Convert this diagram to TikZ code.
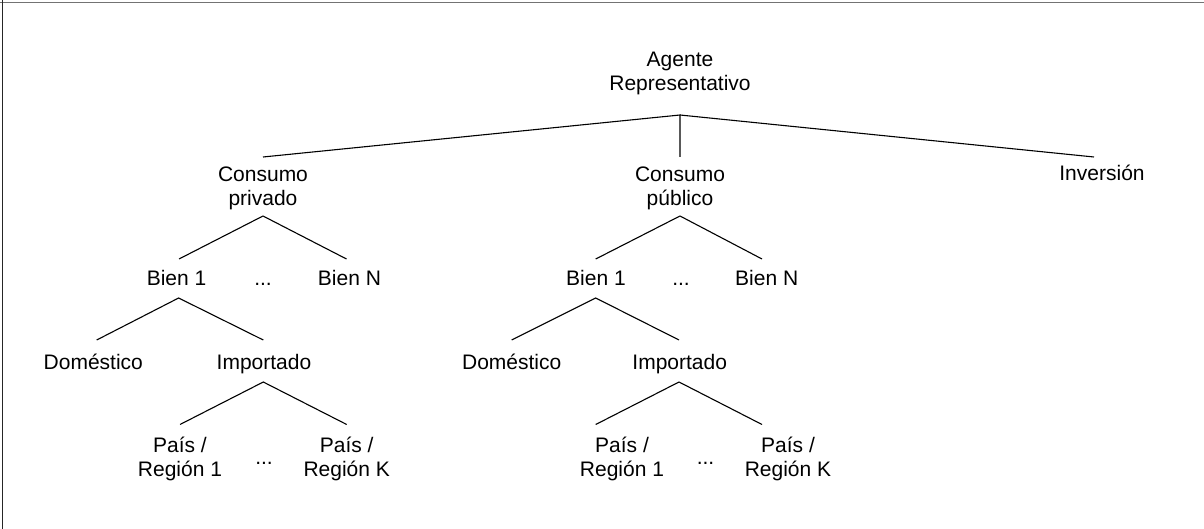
\documentclass[tikz,border=0pt]{standalone}
\usepackage{fontspec}
\setmainfont{Liberation Sans}
\begin{document}
\begin{tikzpicture}[x=1pt,y=-1pt,
  lbl/.style={inner sep=0pt,outer sep=0pt,align=center,
    font=\fontsize{21}{24}\selectfont},
  branch/.style={line width=1.1pt,black}]
\useasboundingbox (0,0) rectangle (1204,529);
% frame lines along the top and left edges
\draw[line width=1.3pt,black!55] (0,2.2) -- (1204,2.2);
\draw[line width=1.3pt,black!85] (2.2,0) -- (2.2,529);

% root and first level
\node[lbl] (agent) at (680,74.2) {\strut Agente\\\strut Representativo};
\node[lbl] (cpriv) at (263,189.2) {\strut Consumo\\\strut privado};
\node[lbl] (cpub)  at (680,189.2) {\strut Consumo\\\strut público};
\node[lbl] (inv)   at (1102,176.2) {\strut Inversión};

% goods
\node[lbl] (lb1)   at (176.6,281.2) {\strut Bien 1};
\node[lbl] (ldots) at (263,281.2)   {\strut ...};
\node[lbl] (lbN)   at (349.5,281.2) {\strut Bien N};
\node[lbl] (pb1)   at (596,281.2)   {\strut Bien 1};
\node[lbl] (pdots) at (681,281.2)   {\strut ...};
\node[lbl] (pbN)   at (766.7,281.2) {\strut Bien N};

% origin of the good
\node[lbl] (ldom) at (93.3,364.2)  {\strut Doméstico};
\node[lbl] (limp) at (264,364.2)   {\strut Importado};
\node[lbl] (pdom) at (511.7,364.2) {\strut Doméstico};
\node[lbl] (pimp) at (679.7,364.2) {\strut Importado};

% source regions
\node[lbl] (lr1)    at (180,459.2)   {\strut País /\\\strut Región 1};
\node[lbl] (ldots2) at (264,459.2)   {\strut ...};
\node[lbl] (lrK)    at (346.7,459.2) {\strut País /\\\strut Región K};
\node[lbl] (pr1)    at (622,459.2)   {\strut País /\\\strut Región 1};
\node[lbl] (pdots2) at (705.5,459.2) {\strut ...};
\node[lbl] (prK)    at (788,459.2)   {\strut País /\\\strut Región K};

% branches
\draw[branch] ([yshift=8.2pt]cpriv.north) -- ([yshift=-16.8pt]agent.south)
  -- ([yshift=8.2pt]cpub.north);
\draw[branch] ([yshift=-16.8pt]agent.south) -- ([xshift=-8pt,yshift=7.2pt]inv.north);

\draw[branch] ([xshift=2.4pt,yshift=10.2pt]lb1.north) -- ([yshift=-2.8pt]cpriv.south)
  -- ([xshift=-3pt,yshift=10.2pt]lbN.north);
\draw[branch] ([xshift=-0.3pt,yshift=10.2pt]pb1.north) -- ([yshift=-2.8pt]cpub.south)
  -- ([xshift=-4.7pt,yshift=10.2pt]pbN.north);

\draw[branch] ([xshift=3.4pt,yshift=12.2pt]ldom.north) -- ([xshift=2pt,yshift=-4.8pt]lb1.south)
  -- ([xshift=-0.7pt,yshift=12.2pt]limp.north);
\draw[branch] ([yshift=12.2pt]pdom.north) -- ([xshift=-0.3pt,yshift=-4.8pt]pb1.south)
  -- ([xshift=-0.7pt,yshift=12.2pt]pimp.north);

\draw[branch] ([yshift=10.7pt]lr1.north) -- ([xshift=-0.7pt,yshift=-5.8pt]limp.south)
  -- ([yshift=10.7pt]lrK.north);
\draw[branch] ([xshift=-26.3pt,yshift=10.7pt]pr1.north) -- ([xshift=-0.7pt,yshift=-5.8pt]pimp.south)
  -- ([xshift=-26pt,yshift=10.7pt]prK.north);
\end{tikzpicture}
\end{document}
